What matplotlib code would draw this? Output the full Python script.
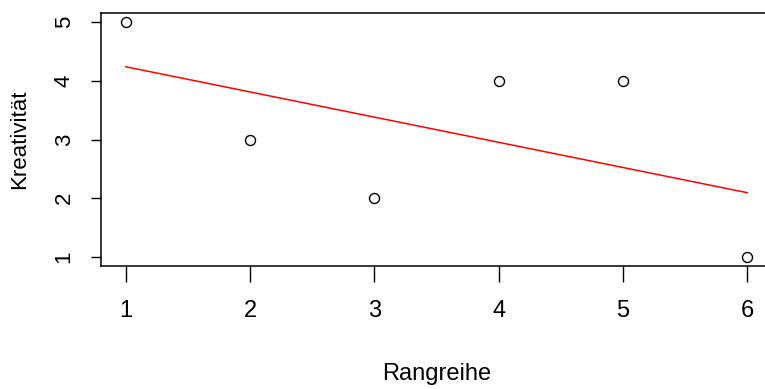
import numpy as np
import matplotlib
matplotlib.use("Agg")
import matplotlib.pyplot as plt
from matplotlib import font_manager

# data
rangreihe = [1, 2, 3, 4, 5, 6]
kreativitaet = [5, 3, 2, 4, 4, 1]
x_ticks = [1, 2, 3, 4, 5, 6]
y_ticks = [1, 2, 3, 4, 5]

installed = {f.name for f in font_manager.fontManager.ttflist}
NARROW = "Liberation Sans Narrow" if "Liberation Sans Narrow" in installed else "Liberation Sans"
REGULAR = "Liberation Sans"

fig = plt.figure(figsize=(7.65, 3.89), dpi=100)
# R-style box; the right edge runs off the image like in the reference
ax = fig.add_axes([101 / 765, 1 - 266.4 / 389, 671 / 765, 253.8 / 389])

ax.plot(rangreihe, kreativitaet, linestyle="none", marker="o", markersize=7.2,
        markerfacecolor="none", markeredgecolor="black", markeredgewidth=1.0,
        clip_on=False)

# least-squares line, as abline(lm(...)) in R
slope, icpt = np.polyfit(rangreihe, kreativitaet, 1)
xs = np.array([min(rangreihe), max(rangreihe)])
ax.plot(xs, icpt + slope * xs, color="red", linewidth=1.1)

ax.set_xlim(0.8, 6.2)
ax.set_ylim(0.84, 5.16)
ax.set_xticks(x_ticks)
ax.set_yticks(y_ticks)

for s in ax.spines.values():
    s.set_linewidth(1.1)

ax.tick_params(axis="x", length=11.5, width=1.0, pad=13,
               labelsize=17, labelfontfamily=NARROW)
ax.tick_params(axis="y", length=7.5, width=1.0, pad=11.5, labelrotation=90,
               labelsize=16, labelfontfamily=REGULAR)
for lab in ax.get_yticklabels():
    lab.set_va("center")

ax.set_xlabel("Rangreihe", family=NARROW, fontsize=17, labelpad=29)
ax.set_ylabel("Kreativität", family=REGULAR, fontsize=16, labelpad=17)

fig.savefig("out.png", dpi=100)
plt.close(fig)
